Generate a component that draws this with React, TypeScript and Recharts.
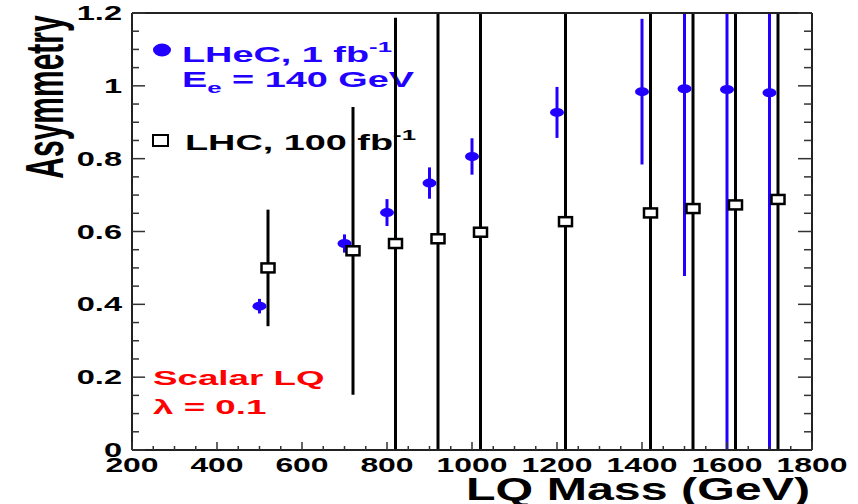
import { ScatterChart, Scatter, XAxis, YAxis, ErrorBar } from "recharts";

// LHeC, 1 fb^-1, Ee = 140 GeV
const lhecMass = [500, 700, 800, 900, 1000, 1200, 1400, 1500, 1600, 1700];
const lhecAsym = [0.395, 0.567, 0.652, 0.733, 0.806, 0.927, 0.984, 0.992, 0.99, 0.981];
const lhecErr = [0.02, 0.025, 0.037, 0.043, 0.05, 0.07, 0.2, 0.514, 1.2, 1.2];

// LHC, 100 fb^-1
const lhcMass = [520, 720, 820, 920, 1020, 1220, 1420, 1520, 1620, 1720];
const lhcAsym = [0.5, 0.547, 0.567, 0.58, 0.598, 0.627, 0.651, 0.663, 0.673, 0.688];
const lhcErr = [0.16, 0.395, 0.62, 1.2, 1.2, 1.2, 1.2, 1.2, 1.2, 1.2];

const xMajor = [200, 400, 600, 800, 1000, 1200, 1400, 1600, 1800];
const xMinor = [250, 300, 350, 450, 500, 550, 650, 700, 750, 850, 900, 950, 1050, 1100, 1150, 1250, 1300, 1350, 1450, 1500, 1550, 1650, 1700, 1750];
const yMajor = [0, 0.2, 0.4, 0.6, 0.8, 1, 1.2];
const yMinor = [0.05, 0.1, 0.15, 0.25, 0.3, 0.35, 0.45, 0.5, 0.55, 0.65, 0.7, 0.75, 0.85, 0.9, 0.95, 1.05, 1.1, 1.15];

const X_DOMAIN = [200, 1800];
const Y_DOMAIN = [0, 1.2];
const BLUE = "#2200ff";
const RED = "#ff0000";
const FONT = "'Liberation Sans', Arial, sans-serif";

const xTicks = [...xMajor, ...xMinor].sort((a, b) => a - b);
const yTicks = [...yMajor, ...yMinor].sort((a, b) => a - b);

// error bars stop at the frame, like in the original plot
const toPoints = (mass: number[], asym: number[], err: number[]) =>
  mass.map((m, i) => ({
    x: m,
    y: asym[i],
    err: [Math.min(err[i], asym[i] - Y_DOMAIN[0]), Math.min(err[i], Y_DOMAIN[1] - asym[i])],
  }));

const lhecData = toPoints(lhecMass, lhecAsym, lhecErr);
const lhcData = toPoints(lhcMass, lhcAsym, lhcErr);

const Stretch = ({ x, y, sx, size, fill = "#000", anchor = "start", rotate = false, children }: any) => (
  <text
    transform={`translate(${x},${y}) scale(${sx},1)${rotate ? " rotate(-90)" : ""}`}
    fontSize={size}
    fontWeight="bold"
    fontFamily={FONT}
    fill={fill}
    textAnchor={anchor}
  >
    {children}
  </text>
);

const isMajor = (v: number, list: number[]) => list.some((t) => Math.abs(t - v) < 1e-6);

const BottomTick = ({ x, y, payload }: any) => {
  const major = isMajor(payload.value, xMajor);
  return (
    <g>
      <line x1={x} y1={y} x2={x} y2={y - (major ? 8 : 4)} stroke="#333" strokeWidth={1.5} />
      {major && (
        <Stretch x={x} y={y + 22} sx={1.52} size={21} anchor="middle">
          {payload.value}
        </Stretch>
      )}
    </g>
  );
};

const TopTick = ({ x, y, payload }: any) => {
  const major = isMajor(payload.value, xMajor);
  return <line x1={x} y1={y} x2={x} y2={y + (major ? 8 : 4)} stroke="#333" strokeWidth={1.5} />;
};

const LeftTick = ({ x, y, payload }: any) => {
  const major = isMajor(payload.value, yMajor);
  return (
    <g>
      <line x1={x} y1={y} x2={x + (major ? 13 : 7)} y2={y} stroke="#333" strokeWidth={1.5} />
      {major && (
        <Stretch x={x - 10} y={y + 7} sx={1.55} size={21} anchor="end">
          {String(payload.value)}
        </Stretch>
      )}
    </g>
  );
};

const RightTick = ({ x, y, payload }: any) => {
  const major = isMajor(payload.value, yMajor);
  return <line x1={x} y1={y} x2={x - (major ? 14 : 8)} y2={y} stroke="#333" strokeWidth={1.5} />;
};

const Dot = ({ cx, cy }: any) => <ellipse cx={cx} cy={cy} rx={7} ry={4.5} fill={BLUE} />;

const Box = ({ cx, cy }: any) => (
  <rect x={cx - 6.5} y={cy - 4.5} width={13} height={9} fill="#fff" stroke="#000" strokeWidth={2.5} />
);

const frame = { stroke: "#222", strokeWidth: 2 };

export default function App() {
  return (
    <div style={{ position: "absolute", left: 0, top: 0 }}>
      <ScatterChart width={858} height={504} margin={{ top: 12, right: 45, bottom: 53, left: 131 }}>
        <XAxis
          dataKey="x"
          type="number"
          domain={X_DOMAIN}
          allowDataOverflow
          ticks={xTicks}
          interval={0}
          height={1}
          tickSize={0}
          tickMargin={0}
          tickLine={false}
          axisLine={frame}
          tick={<BottomTick />}
        />
        <XAxis
          xAxisId="top"
          orientation="top"
          type="number"
          domain={X_DOMAIN}
          allowDataOverflow
          ticks={xTicks}
          interval={0}
          height={1}
          tickSize={0}
          tickMargin={0}
          tickLine={false}
          axisLine={frame}
          tick={<TopTick />}
        />
        <YAxis
          dataKey="y"
          type="number"
          domain={Y_DOMAIN}
          allowDataOverflow
          ticks={yTicks}
          interval={0}
          width={1}
          tickSize={0}
          tickMargin={0}
          tickLine={false}
          axisLine={frame}
          tick={<LeftTick />}
        />
        <YAxis
          yAxisId="right"
          orientation="right"
          type="number"
          domain={Y_DOMAIN}
          allowDataOverflow
          ticks={yTicks}
          interval={0}
          width={1}
          tickSize={0}
          tickMargin={0}
          tickLine={false}
          axisLine={frame}
          tick={<RightTick />}
        />
        <Scatter data={lhecData} shape={<Dot />} isAnimationActive={false}>
          <ErrorBar dataKey="err" direction="y" width={0} stroke={BLUE} strokeWidth={3} isAnimationActive={false} />
        </Scatter>
        <Scatter data={lhcData} shape={<Box />} isAnimationActive={false}>
          <ErrorBar dataKey="err" direction="y" width={0} stroke="#000" strokeWidth={3} isAnimationActive={false} />
        </Scatter>

        <g>
          <Stretch x={63} y={97} sx={1.8} size={30} anchor="middle" rotate>
            Asymmetry
          </Stretch>
          <Stretch x={810} y={500} sx={1.56} size={31} anchor="end">
            LQ Mass (GeV)
          </Stretch>

          <ellipse cx={162} cy={50} rx={9} ry={6.5} fill={BLUE} />
          <Stretch x={182} y={62} sx={1.72} size={22} fill={BLUE}>
            LHeC, 1 fb
            <tspan dy={-10} fontSize={15}>-1</tspan>
          </Stretch>
          <Stretch x={182} y={87} sx={1.72} size={22} fill={BLUE}>
            E
            <tspan dy={6} fontSize={15}>e</tspan>
            <tspan dy={-6}> = 140 GeV</tspan>
          </Stretch>

          <rect x={153} y={135} width={15} height={11} fill="#fff" stroke="#000" strokeWidth={2} />
          <Stretch x={185} y={150} sx={1.72} size={22}>
            LHC, 100 fb
            <tspan dy={-10} fontSize={15}>-1</tspan>
          </Stretch>

          <Stretch x={153} y={385} sx={1.75} size={21} fill={RED}>
            Scalar LQ
          </Stretch>
          <Stretch x={153} y={414} sx={1.75} size={21} fill={RED}>
            λ = 0.1
          </Stretch>
        </g>
      </ScatterChart>
    </div>
  );
}
